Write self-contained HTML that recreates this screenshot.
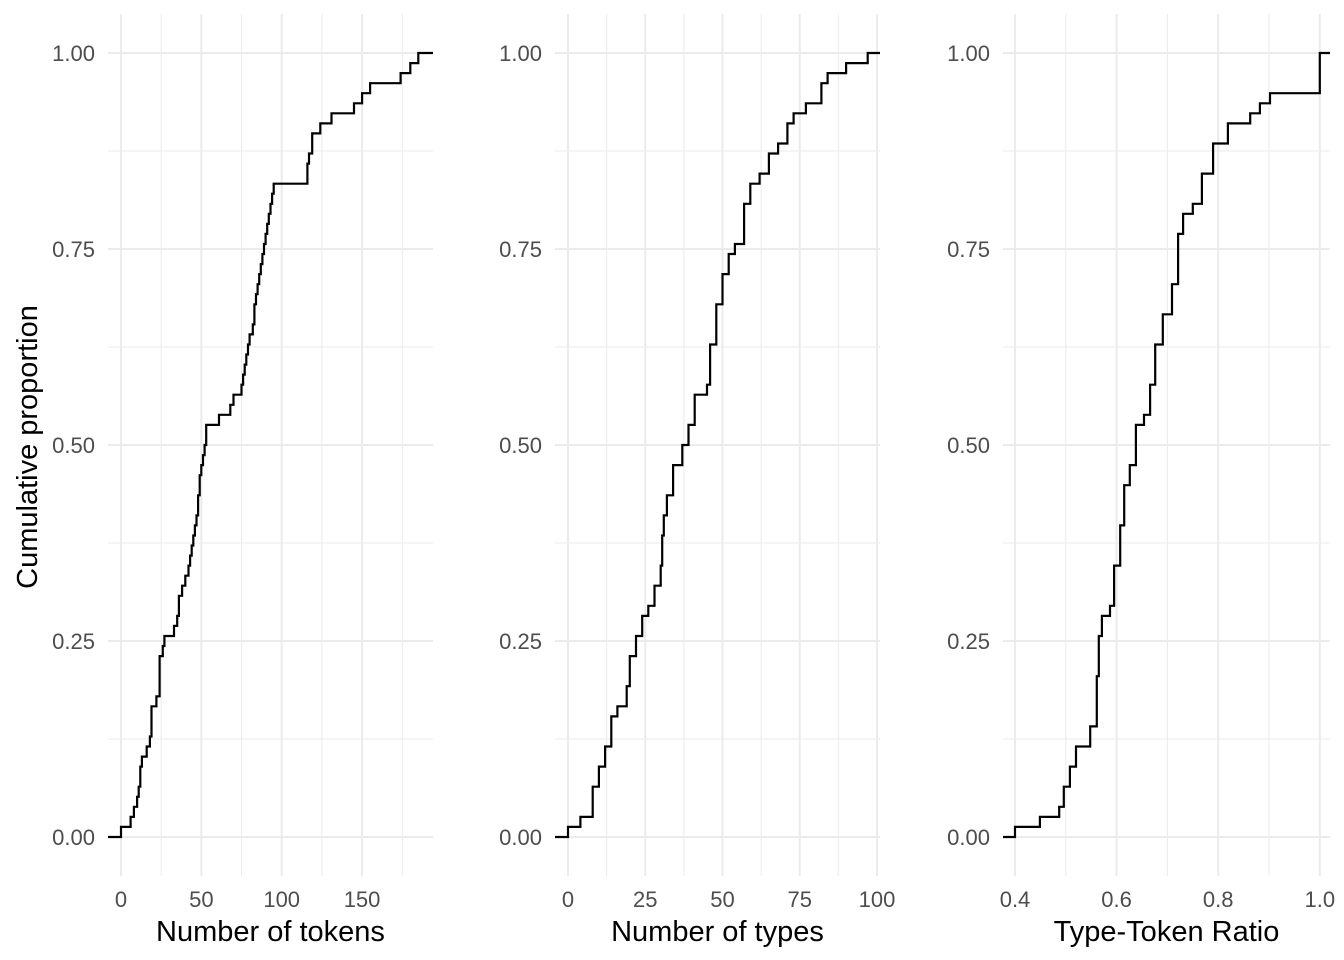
<!DOCTYPE html>
<html><head><meta charset="utf-8">
<style>
html,body{margin:0;padding:0;background:#fff;}
svg{display:block;font-family:"Liberation Sans",Arial,sans-serif;}
</style></head>
<body>
<svg id="chart" width="1344" height="960" viewBox="0 0 1344 960" xmlns="http://www.w3.org/2000/svg"></svg>
<script>
// ---- data ----
const tokenValues = [0,6,8,10,11,12,12,13,16,18,19,19,19,22,24,24,24,24,26,27,33,35,36,36,38,40,42,43,44,45,46,47,48,48,49,49,50,51,52,53,53,61,68,70,75,76,77,78,79,80,82,83,83,84,85,86,87,88,89,90,91,92,93,94,95,116,116,117,119,119,124,131,145,150,155,174,180,185];
const typeValues = [0,4,8,8,8,10,10,12,12,14,14,14,16,19,19,20,20,20,22,22,24,24,26,28,28,30,30,30.5,30.5,30.5,31,31,32,32,34,34,34,37,37,39,39,41,41,41,45,46,46,46,46,48,48,48,48,50,50,50,52,52,54,57,57,57,57,59,59,62,65,65,68,71,71,73,77,82,82,84,90,97];
const ttrUnique = [0.4,0.449,0.487,0.496,0.508,0.52,0.548,0.561,0.565,0.571,0.587,0.595,0.607,0.615,0.626,0.638,0.654,0.666,0.676,0.691,0.709,0.721,0.731,0.75,0.768,0.79,0.819,0.863,0.882,0.902,1.0];
const ttrCounts = [1,1,1,2,2,2,2,5,4,2,1,4,4,4,2,4,1,3,4,3,3,5,2,1,3,3,2,1,1,1,4];
const yTicks = [0,0.25,0.5,0.75,1];
const yTickLabels = ["0.00","0.25","0.50","0.75","1.00"];
const tokenTicks = [0,50,100,150];
const typeTicks = [0,25,50,75,100];
const ttrTicks = [0.4,0.6,0.8,1.0];
const ttrTickLabels = ["0.4","0.6","0.8","1.0"];

const ttrValues = [];
ttrUnique.forEach((v,i)=>{for(let k=0;k<ttrCounts[i];k++) ttrValues.push(v);});

const NS="http://www.w3.org/2000/svg";
const svg=document.getElementById('chart');
function mk(tag,attrs,parent){const e=document.createElementNS(NS,tag);for(const k in attrs)e.setAttribute(k,attrs[k]);(parent||svg).appendChild(e);return e;}

const TOP=14,BOTTOM=876;
const y=v=>837-v*784;

const panels=[
 {name:'tokens',left:108,right:433,x0:121,scale:1.607,data:tokenValues,ticks:tokenTicks,labels:tokenTicks.map(String),title:'Number of tokens',minor:[25,75,125,175]},
 {name:'types',left:555,right:880,x0:568,scale:3.09,data:typeValues,ticks:typeTicks,labels:typeTicks.map(String),title:'Number of types',minor:[12.5,37.5,62.5,87.5]},
 {name:'ttr',left:1003,right:1330,x0:1015,scale:508,data:ttrValues,ticks:ttrTicks,labels:ttrTickLabels,title:'Type-Token Ratio',minor:[0.5,0.7,0.9],base:0.4}
];

panels.forEach(p=>{
  const base=p.base||0;
  const x=v=>p.x0+(v-base)*p.scale;
  const g=mk('g',{});
  
  
  [0.125,0.375,0.625,0.875].forEach(v=>{
    const l=mk('line',{x1:p.left,x2:p.right,y1:y(v),y2:y(v),stroke:'#ebebeb','stroke-width':1},g);
    
    
  });
  p.minor.forEach(v=>{
    const l=mk('line',{x1:x(v),x2:x(v),y1:TOP,y2:BOTTOM,stroke:'#ebebeb','stroke-width':1},g);
    
    
  });
  yTicks.forEach((v,i)=>{
    const l=mk('line',{x1:p.left,x2:p.right,y1:y(v),y2:y(v),stroke:'#ebebeb','stroke-width':2},g);
    
    
    const t=mk('text',{x:p.left-13,y:y(v)+8,'text-anchor':'end','font-size':22,fill:'#4d4d4d'},g);
    t.textContent=yTickLabels[i];
    
    
  });
  p.ticks.forEach((v,i)=>{
    const l=mk('line',{x1:x(v),x2:x(v),y1:TOP,y2:BOTTOM,stroke:'#ebebeb','stroke-width':2},g);
    
    
    const t=mk('text',{x:x(v),y:907,'text-anchor':'middle','font-size':22,fill:'#4d4d4d'},g);
    t.textContent=p.labels[i];
    
    
  });
  const s=p.data.slice().sort((a,b)=>a-b);
  const n=s.length;
  let d='M'+p.left+','+y(0);
  let cnt=0;
  let i=0;
  while(i<n){
    const v=s[i];
    while(i<n&&s[i]===v){cnt++;i++;}
    d+=' H'+x(v).toFixed(1)+' V'+y(cnt/n).toFixed(1);
  }
  d+=' H'+p.right;
  const path=mk('path',{d:d,fill:'none',stroke:'#000','stroke-width':2.2},g);
  
  
  const tt=mk('text',{x:(p.left+p.right)/2,y:941,'text-anchor':'middle','font-size':29,fill:'#000'},g);
  tt.textContent=p.title;
  
  
});

const yt=mk('text',{x:0,y:0,'text-anchor':'middle','font-size':29,fill:'#000',transform:'translate(37,447) rotate(-90)'});
yt.textContent='Cumulative proportion';


</script>
</body></html>
